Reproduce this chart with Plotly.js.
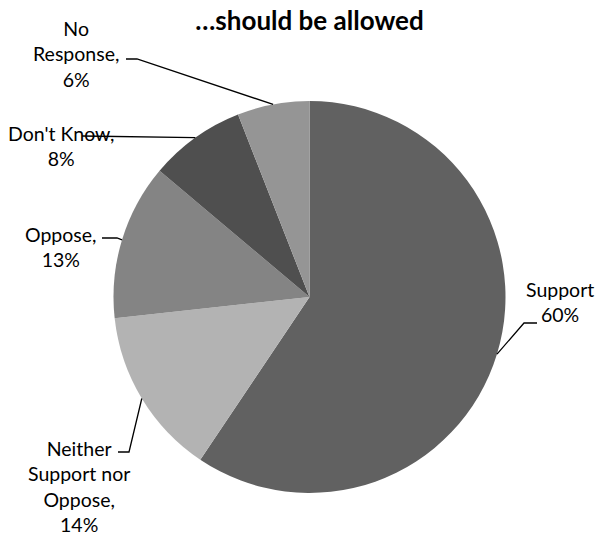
<!DOCTYPE html>
<html>
<head>
<meta charset="utf-8">
<script src="https://cdn.plot.ly/plotly-3.0.1.min.js"></script>
<style>html,body{margin:0;padding:0;background:#fff;}#chart{width:595px;height:537px;}</style>
</head>
<body>
<div id="chart"></div>
<script>
// ---- data ----
const categories = ["Support", "Neither Support nor Oppose", "Oppose", "Don't Know", "No Response"];
const values = [60, 14, 13, 8, 6];
const labelTexts = ["Support<br>60%", "Neither<br>Support nor<br>Oppose,<br>14%", "Oppose,<br>13%", "Don't Know,<br>8%", "No<br>Response,<br>6%"];
const chartTitle = "…should be allowed";

// ---- style / layout config ----
const W = 595, H = 537;
const cx = 309.5, cy = 297, R = 196;
const colors = ["#616161", "#b3b3b3", "#848484", "#4f4f4f", "#959595"];
const FONT = "Lato, 'Open Sans', sans-serif";
// label block centers and leader-line elbows (pixel space, label side first)
const labelPos = [
  {x: 560, y: 302, leader: [[537, 323], [524, 323]]},
  {x: 79, y: 486, leader: [[118, 452], [129, 452]]},
  {x: 61, y: 247, leader: [[102, 238], [117, 238]]},
  {x: 61, y: 146, leader: [[82, 136]]},
  {x: 76, y: 54, leader: [[126, 59], [137, 59]]}
];

// slice mid-angles from the data (clockwise from 12 o'clock)
const total = values.reduce((a, b) => a + b, 0);
let cum = 0;
const anchors = values.map(v => {
  const mid = (cum + v / 2) / total * 2 * Math.PI;
  cum += v;
  return [cx + R * Math.sin(mid), cy - R * Math.cos(mid)];
});

const shapes = labelPos.map((lp, i) => {
  const pts = lp.leader.concat([anchors[i]]);
  const d = pts.map((p, k) => (k === 0 ? "M" : "L") + p[0].toFixed(1) + "," + p[1].toFixed(1)).join(" ");
  return {type: "path", xref: "x", yref: "y", path: d, line: {color: "#000", width: 1.3}};
});

const annotations = labelPos.map((lp, i) => ({
  xref: "x", yref: "y", x: lp.x, y: lp.y, text: labelTexts[i], showarrow: false,
  xanchor: "center", yanchor: "middle", align: "center",
  font: {family: FONT, size: 19.5, color: "#000"}
}));

const trace = {
  type: "pie",
  labels: categories,
  values: values,
  sort: false,
  direction: "clockwise",
  rotation: 0,
  textinfo: "none",
  hoverinfo: "none",
  showlegend: false,
  marker: {colors: colors, line: {width: 0}},
  domain: {x: [(cx - R) / W, (cx + R) / W], y: [(H - cy - R) / H, (H - cy + R) / H]}
};

const layout = {
  width: W, height: H,
  margin: {l: 0, r: 0, t: 0, b: 0},
  paper_bgcolor: "#fff", plot_bgcolor: "rgba(0,0,0,0)",
  title: {text: "<b>" + chartTitle + "</b>", x: cx / W, xanchor: "center", xref: "paper",
          y: 1 - 21 / H, yanchor: "middle", yref: "container",
          font: {family: FONT, size: 26, color: "#000"}},
  xaxis: {range: [0, W], visible: false, fixedrange: true},
  yaxis: {range: [H, 0], visible: false, fixedrange: true},
  shapes: shapes,
  annotations: annotations,
  showlegend: false
};

Plotly.newPlot("chart", [trace], layout, {displayModeBar: false, staticPlot: true});
</script>
</body>
</html>
